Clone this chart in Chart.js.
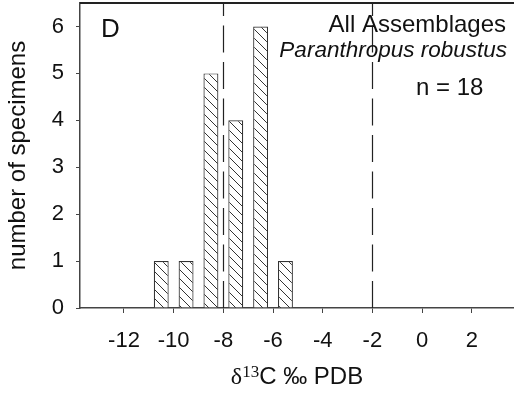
<!DOCTYPE html>
<html>
<head>
<meta charset="utf-8">
<script src="https://cdn.jsdelivr.net/npm/chart.js@4/dist/chart.umd.min.js"></script>
<style>
html, body { margin: 0; padding: 0; background: #fff; }
</style>
</head>
<body>
<canvas id="d13c" width="514" height="397"></canvas>
<script>
// histogram bins (bin centre, per mil) and counts
var binCenters = [-10.5, -9.5, -8.5, -7.5, -6.5, -5.5];
var counts = [1, 1, 5, 4, 6, 1];
var xTicks = [-12, -10, -8, -6, -4, -2, 0, 2];
var yTicks = [0, 1, 2, 3, 4, 5, 6];
var cutoffs = [-8, -2];
var panelLabel = "D";
var headerLines = ["All Assemblages", "Paranthropus robustus"];
var sampleLabel = "n = 18";

var SANS = "'Liberation Sans', Arial, sans-serif";
var SERIF = "'Liberation Serif', 'Times New Roman', serif";
var INK = '#111';
var AXIS = '#444';

//=============================== hatch pattern ===============================
function hatch() {
    var s = 9;
    var c = document.createElement('canvas');
    c.width = s; c.height = s;
    var g = c.getContext('2d');
    g.fillStyle = '#fff';
    g.fillRect(0, 0, s, s);
    g.strokeStyle = '#333';
    g.lineWidth = 1;
    for (var k = -1; k <= 1; k++) {
        g.beginPath();
        g.moveTo(k * s, 0);
        g.lineTo(k * s + s, s);
        g.stroke();
    }
    return g.createPattern(c, 'repeat');
}

var points = binCenters.map(function (x, i) { return { x: x, y: counts[i] }; });

//=============================== overlay: frame, cut-offs, labels ===============================
var overlay = {
    id: 'overlay',
    afterDraw: function (chart) {
        var ctx = chart.ctx, a = chart.chartArea, xs = chart.scales.x;
        ctx.save();

        // top frame line
        ctx.fillStyle = '#222';
        ctx.fillRect(a.left, a.top - 1, a.right - a.left, 2);

        // dashed cut-off lines
        ctx.strokeStyle = '#222';
        ctx.lineWidth = 1.2;
        ctx.setLineDash([27, 9.5]);
        cutoffs.forEach(function (v) {
            var px = Math.round(xs.getPixelForValue(v)) + 0.5;
            ctx.beginPath();
            ctx.moveTo(px, a.bottom);
            ctx.lineTo(px, a.top);
            ctx.stroke();
        });
        ctx.setLineDash([]);

        // panel letter and header
        ctx.fillStyle = INK;
        ctx.textBaseline = 'alphabetic';
        ctx.textAlign = 'left';
        ctx.font = '26px ' + SANS;
        ctx.fillText(panelLabel, 101, 37);

        ctx.textAlign = 'right';
        ctx.font = '24px ' + SANS;
        ctx.fillText(headerLines[0], 506, 32);
        ctx.font = 'italic 22.5px ' + SANS;
        ctx.fillText(headerLines[1], 507, 57);

        ctx.textAlign = 'left';
        ctx.font = '24px ' + SANS;
        ctx.fillText(sampleLabel, 416, 95);

        // x axis title: delta 13C per mil PDB
        var parts = [
            { t: '\u03B4', f: '24px ' + SERIF, dy: 0 },
            { t: '13', f: '17px ' + SERIF, dy: -7 },
            { t: 'C \u2030 PDB', f: '24px ' + SANS, dy: 0 }
        ];
        var total = 0;
        parts.forEach(function (p) { ctx.font = p.f; p.w = ctx.measureText(p.t).width; total += p.w; });
        var x0 = (a.left + a.right) / 2 - total / 2;
        var base = 384;
        parts.forEach(function (p) {
            ctx.font = p.f;
            ctx.fillText(p.t, x0, base + p.dy);
            x0 += p.w;
        });

        ctx.restore();
    }
};

var chart = new Chart(document.getElementById('d13c'), {
    type: 'bar',
    data: {
        datasets: [{
            label: 'specimens',
            data: points,
            backgroundColor: hatch(),
            borderColor: '#333',
            borderWidth: 1.2,
            barPercentage: 0.6,
            categoryPercentage: 1.0
        }]
    },
    options: {
        responsive: false,
        animation: false,
        layout: { padding: { top: 3, right: 0, bottom: 0, left: 0 } },
        plugins: {
            legend: { display: false },
            tooltip: { enabled: false }
        },
        scales: {
            x: {
                type: 'linear',
                min: -13.77,
                max: 3.7,
                offset: false,
                afterBuildTicks: function (scale) {
                    scale.ticks = xTicks.map(function (v) { return { value: v }; });
                },
                afterFit: function (scale) {
                    scale.height = 89;
                    scale.paddingLeft = 0;
                    scale.paddingRight = 0;
                },
                grid: { display: true, drawOnChartArea: false, drawTicks: true, tickLength: 5, color: AXIS, offset: false },
                border: { display: true, color: AXIS, width: 1.5 },
                ticks: {
                    color: INK,
                    font: { family: SANS, size: 22 },
                    padding: 15,
                    maxRotation: 0,
                    autoSkip: false,
                    callback: function (v) { return String(v); }
                }
            },
            y: {
                min: 0,
                max: 6.5,
                afterBuildTicks: function (scale) {
                    scale.ticks = yTicks.map(function (v) { return { value: v }; });
                },
                afterFit: function (scale) {
                    scale.width = 80;
                    scale.paddingTop = 0;
                    scale.paddingBottom = 0;
                },
                grid: { display: true, drawOnChartArea: false, drawTicks: true, tickLength: 4, color: AXIS },
                border: { display: true, color: AXIS, width: 1.5 },
                ticks: {
                    color: INK,
                    font: { family: SANS, size: 22 },
                    padding: 12,
                    callback: function (v) { return String(v); }
                },
                title: {
                    display: true,
                    text: 'number of specimens',
                    color: INK,
                    font: { family: SANS, size: 24 },
                    padding: { top: 4, bottom: 0 }
                }
            }
        }
    },
    plugins: [overlay]
});
</script>
</body>
</html>
